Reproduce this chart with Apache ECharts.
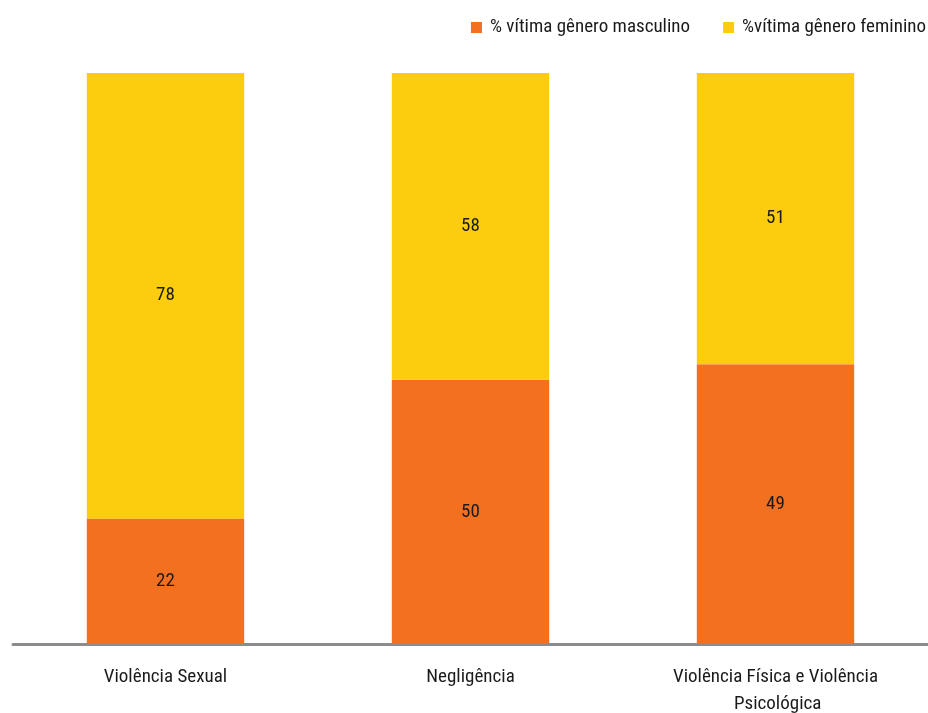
<!DOCTYPE html>
<html>
<head>
<meta charset="utf-8">
<style>
  html, body { margin: 0; padding: 0; background: #fff; }
  #chart { width: 928px; height: 713px; }
</style>
<script src="https://cdn.jsdelivr.net/npm/echarts@6/dist/echarts.min.js"></script>
</head>
<body>
<div id="chart"></div>
<script>
// Categories and raw counts per sex
const categories = ['Violência Sexual', 'Negligência', 'Violência Física e Violência Psicológica'];
const masculino = [22, 50, 49];
const feminino = [78, 58, 51];
const seriesNames = ['% vítima gênero masculino', '%vítima gênero feminino'];

const FONT = '"Roboto Condensed", "Liberation Sans Narrow", sans-serif';

// Each bar is shown as a share of its category total (100% stacked)
const totals = categories.map((_, i) => masculino[i] + feminino[i]);
const share = (arr) => arr.map((v, i) => ({ value: v / totals[i] * 100, raw: v }));

const chart = echarts.init(document.getElementById('chart'));
const labelCfg = {
  show: true,
  position: 'inside',
  color: '#1a1a1a',
  fontFamily: FONT,
  fontSize: 19,
  formatter: (p) => p.data.raw
};

chart.setOption({
  animation: false,
  textStyle: { fontFamily: FONT },
  legend: {
    top: 18,
    right: 2,
    padding: 0,
    itemWidth: 11,
    itemHeight: 11,
    itemGap: 33,
    icon: 'rect',
    textStyle: { fontFamily: FONT, fontSize: 19, color: '#1a1a1a', padding: [0, 0, 0, 3] },
    data: seriesNames
  },
  grid: {
    left: 13, right: 0, top: 73, height: 571,
    containLabel: false,
    outerBoundsMode: 'none'
  },
  xAxis: {
    type: 'category',
    data: categories,
    axisLine: { lineStyle: { color: '#8c8c8c', width: 3 } },
    axisTick: { show: false },
    axisLabel: {
      fontFamily: FONT,
      fontSize: 19,
      color: '#1a1a1a',
      margin: 20,
      lineHeight: 27,
      width: 240,
      overflow: 'break',
      interval: 0
    }
  },
  yAxis: {
    type: 'value',
    min: 0,
    max: 100,
    show: false
  },
  series: [
    {
      name: seriesNames[0],
      type: 'bar',
      stack: 'total',
      barWidth: '51.6%',
      itemStyle: { color: '#F37021' },
      label: labelCfg,
      data: share(masculino)
    },
    {
      name: seriesNames[1],
      type: 'bar',
      stack: 'total',
      barWidth: '51.6%',
      itemStyle: { color: '#FCCC0E' },
      label: labelCfg,
      data: share(feminino)
    }
  ]
});
</script>
</body>
</html>
